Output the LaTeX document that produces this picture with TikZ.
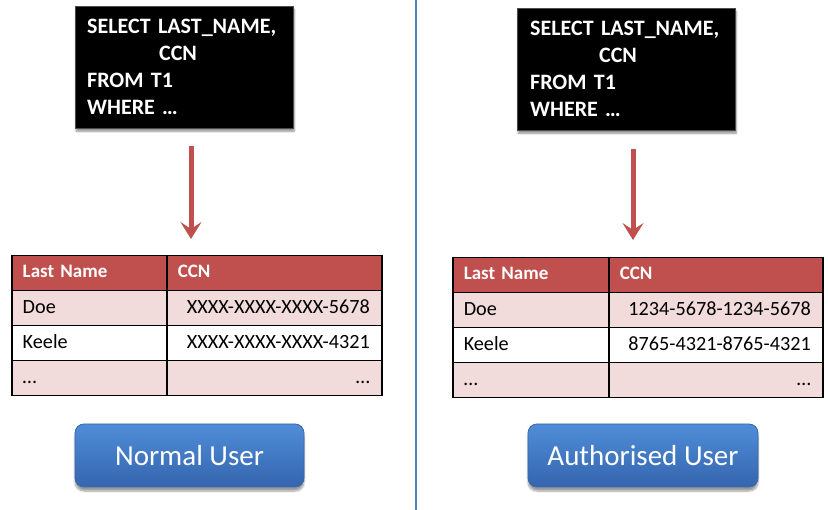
\documentclass[tikz,border=0pt]{standalone}
\usepackage{fontspec}
\setmainfont{Carlito}
\usepackage{xcolor}
\usepackage{tikz}
\usetikzlibrary{arrows.meta,shadows.blur}
\definecolor{HeadRed}{HTML}{C0504D}
\definecolor{RowPink}{HTML}{F2DCDB}
\definecolor{BtnTop}{HTML}{4F8DD8}
\definecolor{BtnBot}{HTML}{3565AE}
\definecolor{BtnLine}{HTML}{3A68A8}
\definecolor{LineBlue}{HTML}{4F81BD}
\tikzset{%
  QueryStyle/.style={fill=black,draw=black!70,anchor=north west,inner xsep=12pt,align=left,
    text=white,font=\fontsize{22}{27}\selectfont\bfseries,
    blur shadow={shadow xshift=1pt,shadow yshift=-3pt,shadow blur steps=6,shadow opacity=45}},
  HeadCell/.style={draw=black,line width=1.5pt,fill=HeadRed,anchor=north west,minimum height=35pt,
    inner xsep=11pt,inner ysep=0pt,text height=13pt,text depth=4pt,align=left,
    text=white,font=\fontsize{19}{22}\selectfont\bfseries},
  BodyCell/.style={draw=black,line width=1.5pt,anchor=north west,minimum height=35pt,
    inner xsep=11pt,inner ysep=0pt,text height=14pt,text depth=4pt,
    font=\fontsize{20.2}{23}\selectfont},
  ButtonStyle/.style={draw=BtnLine,line width=0.8pt,rounded corners=9pt,top color=BtnTop,bottom color=BtnBot,
    text=white,font=\fontsize{29}{34}\selectfont,
    blur shadow={shadow xshift=0pt,shadow yshift=-4pt,shadow blur steps=6,shadow opacity=40}},
  ArrowStyle/.style={draw=HeadRed,line width=5pt,-{Stealth[length=17pt,width=21pt,inset=7pt]}}
}

\begin{document}
\begin{tikzpicture}[x=1pt,y=-1pt]
\useasboundingbox (0,0) rectangle (828,510);

\coordinate (dtop) at (416,0);
\coordinate (dbot) at (416,510);
\draw [LineBlue,line width=1.3pt] (dtop) -- (dbot);

% queries
\node (q0) [QueryStyle,minimum width=218pt,minimum height=122pt,text width=194pt] at (75,6)
  {SELECT LAST\_NAME,\\\hspace*{72pt}CCN\\FROM T1\\WHERE \dots};
\node (q1) [QueryStyle,minimum width=218pt,minimum height=122pt,text width=192pt,inner xsep=13pt] at (517,8)
  {SELECT LAST\_NAME,\\\hspace*{69pt}CCN\\FROM T1\\WHERE \dots};

\coordinate (a00) at (191,146);
\coordinate (a01) at (191,239);
\coordinate (a10) at (633,149);
\coordinate (a11) at (633,240);
\draw [ArrowStyle] (a00) -- (a01);
\draw [ArrowStyle] (a10) -- (a11);

% tables
\node (l00) [HeadCell,text width=133pt] at (11,255) {Last Name};
\node (l01) [HeadCell,text width=193pt] at (166,255) {CCN};
\foreach \i/\fc/\nm/\cc in {1/RowPink/Doe/XXXX-XXXX-XXXX-5678,2/white/Keele/XXXX-XXXX-XXXX-4321,3/RowPink/…/…} {
    \node (l\i0) [BodyCell,fill=\fc,text width=133pt,align=left] at (11,255+35*\i) {\nm};
    \node (l\i1) [BodyCell,fill=\fc,text width=191pt,inner xsep=12pt,align=right] at (166,255+35*\i) {\cc};
}

\node (r00) [HeadCell,text width=134pt] at (452,257) {Last Name};
\node (r01) [HeadCell,text width=192pt] at (608,257) {CCN};
\foreach \i/\fc/\nm/\cc in {1/RowPink/Doe/1234-5678-1234-5678,2/white/Keele/8765-4321-8765-4321,3/RowPink/…/…} {
    \node (r\i0) [BodyCell,fill=\fc,text width=134pt,align=left] at (452,257+35*\i) {\nm};
    \node (r\i1) [BodyCell,fill=\fc,text width=190pt,inner xsep=12pt,align=right] at (608,257+35*\i) {\cc};
}

% users
\node (u0) [ButtonStyle,minimum width=229pt,minimum height=63pt] at (189.5,455.5) {Normal User};
\node (u1) [ButtonStyle,minimum width=230pt,minimum height=63pt] at (643,455.5) {Authorised User};
\end{tikzpicture}
\end{document}
